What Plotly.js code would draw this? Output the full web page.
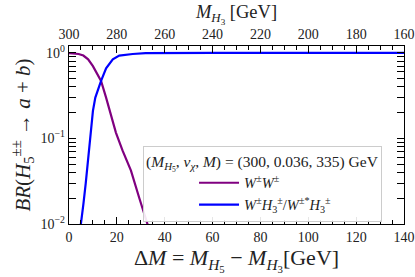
<!DOCTYPE html>
<html>
<head>
<meta charset="utf-8">
<script src="https://cdn.plot.ly/plotly-3.0.1.min.js"></script>
<style>html,body{margin:0;padding:0;background:#fff;}#chart{width:415px;height:277px;}</style>
</head>
<body>
<div id="chart"></div>
<script>
// W±W± channel
const dmWW = [0, 2, 4, 6, 8, 10, 12, 13.4, 15.5, 17.6, 19.6, 22.4, 25.9, 29.4, 32.2, 33.2];
const brWW = [0.99, 0.985, 0.97, 0.93, 0.84, 0.70, 0.56, 0.47, 0.30, 0.19, 0.117, 0.072, 0.042, 0.020, 0.011, 0.0092];
// W±H3± / W±*H3± channel
const dmWH = [4.8, 5, 6, 7, 8, 9, 10, 11, 12, 13.4, 15.5, 18.3, 21, 24, 26.6, 32, 40, 60, 80, 100, 120, 140];
const brWH = [0.0092, 0.01, 0.017, 0.03, 0.058, 0.11, 0.21, 0.30, 0.37, 0.47, 0.66, 0.84, 0.93, 0.96, 0.97, 0.99, 0.995, 1.0, 1.0, 1.0, 1.0, 1.0];
// top axis: M_H3 = M_H5 - ΔM
const topRange = [300, 160];
const xRange = [0, 140];
const yTickVals = [0.01, 0.1, 1];
const yTickText = ['10<sup>−2</sup>', '10<sup>−1</sup>', '10<sup>0</sup>'];
const labelWW = '<i>W</i><sup>±</sup><i>W</i><sup>±</sup>';
const labelWH = '<i>W</i><sup>±</sup><i>H</i><sub>3</sub><sup>±</sup>/<i>W</i><sup>±*</sup><i>H</i><sub>3</sub><sup>±</sup>';
const legendTitle = '(<i>M</i><sub><i>H</i><sub>5</sub></sub>, <i>v</i><sub><i>χ</i></sub>, <i>M</i>) = (300, 0.036, 335) GeV';

const minorY = [];
for (let d = -2; d <= 0; d++) for (let k = 2; k <= 9; k++) minorY.push(k * Math.pow(10, d));

const FONT = '"Liberation Serif", "Times New Roman", serif';

const traces = [
  {x: dmWW, y: brWW, type: 'scatter', mode: 'lines', name: labelWW,
   line: {color: '#800080', width: 2.2}, hoverinfo: 'skip'},
  {x: dmWH, y: brWH, type: 'scatter', mode: 'lines', name: labelWH,
   line: {color: '#0000ff', width: 2.2}, hoverinfo: 'skip'},
  {x: topRange.slice(), y: [1, 1], xaxis: 'x2', yaxis: 'y', type: 'scatter', mode: 'lines',
   line: {color: 'rgba(0,0,0,0)', width: 0}, showlegend: false, hoverinfo: 'skip'}
];

const axisCommon = {
  showline: true, linecolor: '#000', linewidth: 1.3, showgrid: false, zeroline: false,
  ticks: 'inside', tickcolor: '#000', tickwidth: 1, ticklen: 7,
  tickfont: {family: FONT, size: 14, color: '#222'}
};

const layout = {
  width: 415, height: 277,
  margin: {l: 69, r: 11, t: 46, b: 53},
  paper_bgcolor: '#fff', plot_bgcolor: '#fff',
  font: {family: FONT, color: '#222'},
  showlegend: true,
  xaxis: Object.assign({}, axisCommon, {
    range: xRange, tickmode: 'linear', tick0: 0, dtick: 20,
    minor: {ticks: 'inside', dtick: 5, tick0: 0, ticklen: 4, tickcolor: '#000', tickwidth: 1},
    mirror: false,
    title: {text: 'Δ<i>M</i> = <i>M</i><sub><i>H</i><sub>5</sub></sub> − <i>M</i><sub><i>H</i><sub>3</sub></sub>[GeV]',
            font: {family: FONT, size: 22, color: '#222'}, standoff: 3}
  }),
  xaxis2: Object.assign({}, axisCommon, {
    overlaying: 'x', side: 'top', anchor: 'y',
    range: topRange, tickmode: 'linear', tick0: 160, dtick: 20,
    minor: {ticks: 'inside', dtick: 5, tick0: 160, ticklen: 4, tickcolor: '#000', tickwidth: 1},
    title: {text: '<i>M</i><sub><i>H</i><sub>3</sub></sub> [GeV]',
            font: {family: FONT, size: 18.5, color: '#222'}, standoff: 0}
  }),
  yaxis: Object.assign({}, axisCommon, {
    type: 'log', range: [-2, 0.08],
    tickmode: 'array', tickvals: yTickVals, ticktext: yTickText,
    minor: {ticks: 'inside', tickmode: 'array', tickvals: minorY, ticklen: 4, tickcolor: '#000', tickwidth: 1},
    mirror: 'allticks',
    title: {text: '<i>BR</i>(<i>H</i><sub>5</sub><sup>±±</sup> → <i>a</i> + <i>b</i>)',
            font: {family: FONT, size: 21, color: '#222'}, standoff: 4}
  }),
  legend: {
    x: 0.221, y: 0.44, xanchor: 'left', yanchor: 'top',
    bgcolor: 'rgba(255,255,255,0.9)', bordercolor: '#ccc', borderwidth: 1,
    font: {family: FONT, size: 14.5, color: '#222'},
    title: {text: legendTitle, font: {family: FONT, size: 15.5, color: '#222'}},
    indentation: 50, itemwidth: 40, tracegroupgap: 0
  }
};

Plotly.newPlot('chart', traces, layout, {displayModeBar: false, staticPlot: true});
</script>
</body>
</html>
